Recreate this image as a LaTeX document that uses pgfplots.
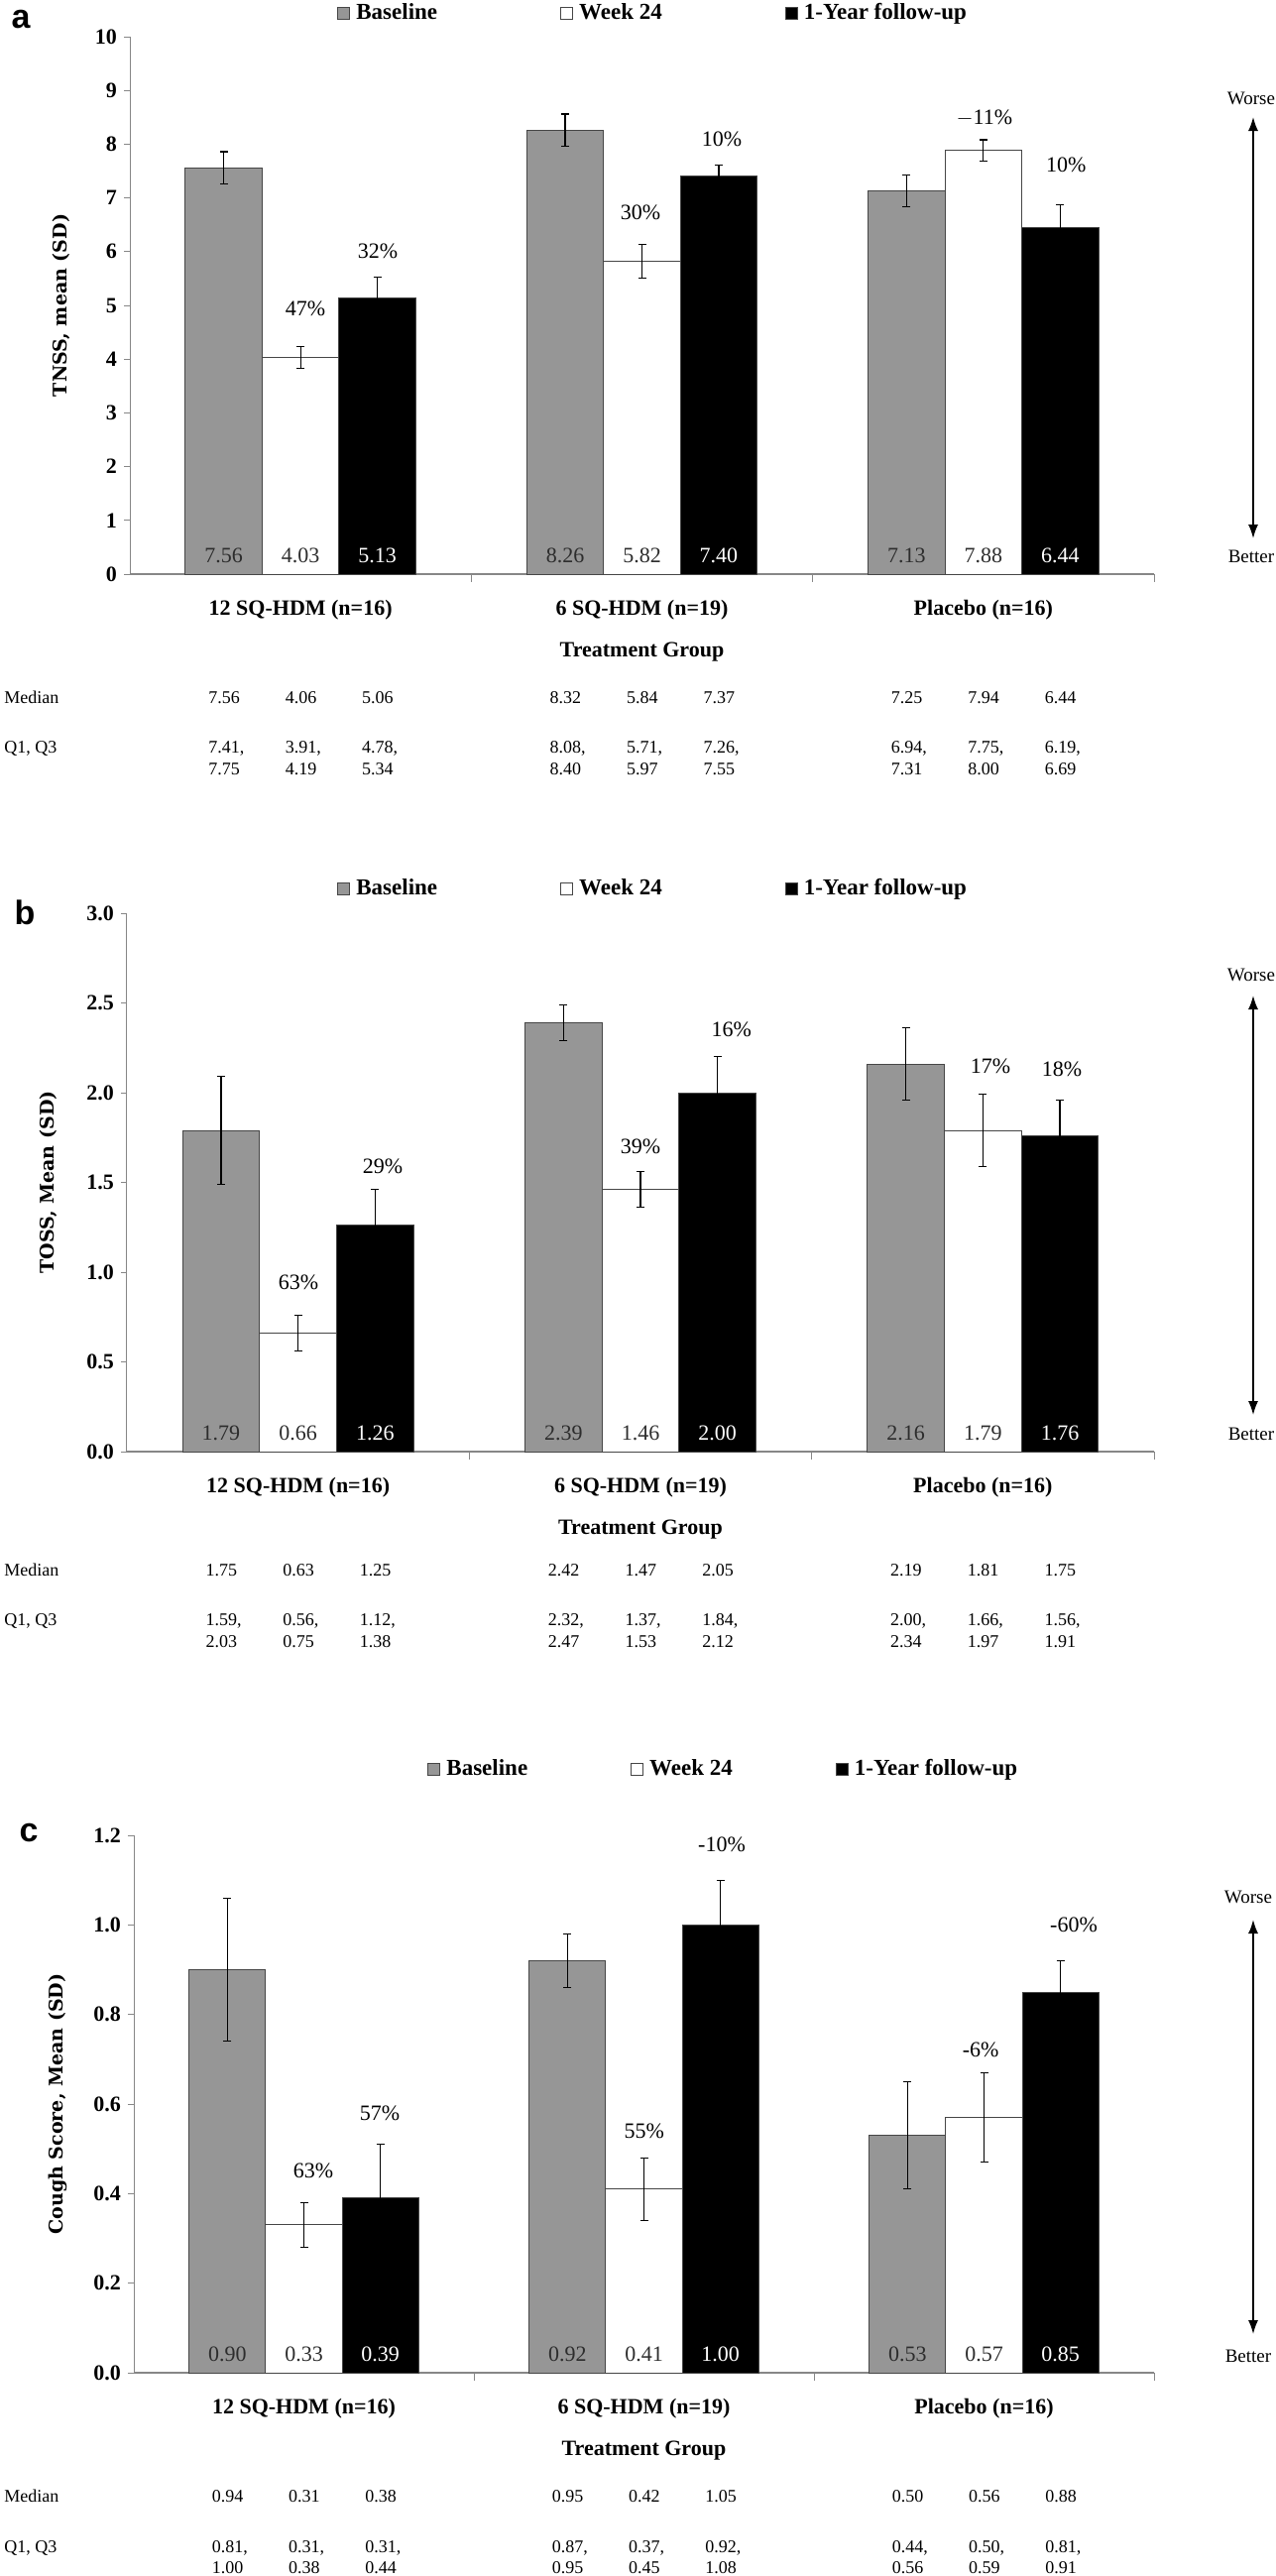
\documentclass[border=0pt]{standalone}
\usepackage{fontspec}
\setmainfont{Liberation Serif}
\newfontfamily\labfont{DejaVu Serif}
\newfontfamily\sansfnt{Liberation Sans}
\usepackage{pgfplots}
\pgfplotsset{compat=1.18}
\usetikzlibrary{arrows.meta}

\definecolor{bargray}{RGB}{150,150,150}
\definecolor{edge}{RGB}{70,70,70}
\definecolor{axgray}{RGB}{135,135,135}
\definecolor{lbldark}{RGB}{45,45,45}

\newcommand\valfont{\fontsize{11}{13}\selectfont}
\newcommand\stfont{\fontsize{9}{11}\selectfont}
\newcommand\vl[3]{\node[font=\valfont, text=#3, yshift=9.5pt, inner sep=0pt] at (axis cs:#1,0) {#2};}
\newcommand\pl[3]{\node[font=\valfont, inner sep=0pt] at (axis cs:#1,#2) {#3};}
\newcommand\col[4]{%
 \node[anchor=base west, font=\stfont, inner sep=0pt, xshift=-7.9pt, yshift=\ym] at (axis cs:#1,0) {#2};%
 \node[anchor=base west, font=\stfont, inner sep=0pt, xshift=-7.9pt, yshift=\yqa] at (axis cs:#1,0) {#3};%
 \node[anchor=base west, font=\stfont, inner sep=0pt, xshift=-7.9pt, yshift=\yqb] at (axis cs:#1,0) {#4};}
\newcommand\rowlabels[1]{%
 \node[anchor=base west, font=\stfont, inner sep=0pt, xshift=#1, yshift=\ym] at (rel axis cs:0,0) {Median};%
 \node[anchor=base west, font=\stfont, inner sep=0pt, xshift=#1, yshift=\yqa] at (rel axis cs:0,0) {Q1, Q3};}

\pgfplotsset{
 panel/.style={
  scale only axis, clip=false,
  xmin=-0.5, xmax=2.5, ymin=0,
  axis x line*=bottom, axis y line*=left,
  x axis line style={axgray, line width=1pt, -},
  y axis line style={axgray, line width=0.5pt, -},
  xtick={0,1,2},
  xticklabels={12 SQ-HDM (n=16), 6 SQ-HDM (n=19), Placebo (n=16)},
  xticklabel style={font=\fontsize{11}{13}\selectfont\bfseries, anchor=center, yshift=-15pt},
  major x tick style={draw=none},
  minor xtick={0.5,1.5,2.5},
  minor x tick style={axgray, line width=0.5pt},
  tick align=outside,
  major tick length=3pt, minor tick length=4pt,
  ytick style={axgray, line width=0.5pt},
  yticklabel style={font=\fontsize{11}{13}\selectfont\bfseries, /pgf/number format/assume math mode=true},
  xlabel={Treatment Group},
  xlabel style={font=\fontsize{11}{13}\selectfont\bfseries, at={(axis description cs:0.5,0)}, anchor=center, yshift=-39.5pt},
  ylabel style={font=\labfont\bfseries\fontsize{9.5}{11}\selectfont, anchor=center},
  legend columns=3,
  legend style={draw=none, fill=none, inner sep=0pt, font=\fontsize{11.5}{13}\selectfont\bfseries,
    /tikz/every even column/.append style={column sep=60pt},
    /tikz/every odd column/.append style={column sep=1pt}},
  legend cell align=left,
  bar width=0.225,
 },
 bars/.style={ybar, bar shift=0pt, draw=edge, line width=0.5pt,
  error bars/y dir=both, error bars/y explicit,
  error bars/error bar style={black, line width=0.6pt},
  error bars/error mark options={rotate=90, black, mark size=2pt, line width=0.6pt},
  legend image code/.code={\draw[##1, line width=0.5pt] (0pt,-3pt) rectangle (6pt,3pt);}},
}

\begin{document}
\begin{tikzpicture}[font=\valfont]
\useasboundingbox (0,0) rectangle (643pt,-1299pt);

% ---------------- panel a
\def\ym{-65pt}\def\yqa{-90pt}\def\yqb{-101pt}
\begin{axis}[panel, at={(65.5pt,-289.5pt)}, anchor=south west, width=516.5pt, height=271pt,
  ymax=10, ytick={0,1,...,10}, ylabel={TNSS, mean (SD)},
  ylabel style={at={(axis description cs:-0.067,0.5)}},
  legend style={at={(axis description cs:0.2023,1)}, anchor=west, yshift=12pt}]
\addplot[bars, fill=bargray] coordinates {(-0.225,7.56) +- (0,0.30) (0.775,8.26) +- (0,0.30) (1.775,7.13) +- (0,0.30)};
\addlegendentry{Baseline}
\addplot[bars, fill=white] coordinates {(0,4.03) +- (0,0.20) (1,5.82) +- (0,0.31) (2,7.88) +- (0,0.20)};
\addlegendentry{Week 24}
\addplot[bars, fill=black] coordinates {(0.225,5.13) +- (0,0.40) (1.225,7.40) +- (0,0.21) (2.225,6.44) +- (0,0.43)};
\addlegendentry{1-Year follow-up}
\vl{-0.225}{7.56}{lbldark}\vl{0}{4.03}{lbldark}\vl{0.225}{5.13}{white}
\vl{0.775}{8.26}{lbldark}\vl{1}{5.82}{lbldark}\vl{1.225}{7.40}{white}
\vl{1.775}{7.13}{lbldark}\vl{2}{7.88}{lbldark}\vl{2.225}{6.44}{white}
\pl{0.014}{4.93}{47\%}\pl{0.226}{6.01}{32\%}
\pl{0.996}{6.72}{30\%}\pl{1.234}{8.10}{10\%}
\pl{2.003}{8.49}{$-$11\%}\pl{2.242}{7.62}{10\%}
\rowlabels{-63.5pt}
\col{-0.225}{7.56}{7.41,}{7.75}\col{0}{4.06}{3.91,}{4.19}\col{0.225}{5.06}{4.78,}{5.34}
\col{0.775}{8.32}{8.08,}{8.40}\col{1}{5.84}{5.71,}{5.97}\col{1.225}{7.37}{7.26,}{7.55}
\col{1.775}{7.25}{6.94,}{7.31}\col{2}{7.94}{7.75,}{8.00}\col{2.225}{6.44}{6.19,}{6.69}
\end{axis}

% ---------------- panel b
\def\ym{-62.5pt}\def\yqa{-87.5pt}\def\yqb{-98.5pt}
\begin{axis}[panel, at={(64pt,-732pt)}, anchor=south west, width=518pt, height=271.5pt,
  ymax=3, ytick={0,0.5,1,1.5,2,2.5,3}, ylabel={TOSS, Mean (SD)},
  yticklabel style={/pgf/number format/.cd, fixed, fixed zerofill, precision=1},
  ylabel style={at={(axis description cs:-0.076,0.5)}},
  legend style={at={(axis description cs:0.2046,1)}, anchor=west, yshift=12.5pt}]
\addplot[bars, fill=bargray] coordinates {(-0.225,1.79) +- (0,0.30) (0.775,2.39) +- (0,0.10) (1.775,2.16) +- (0,0.20)};
\addlegendentry{Baseline}
\addplot[bars, fill=white] coordinates {(0,0.66) +- (0,0.10) (1,1.46) +- (0,0.10) (2,1.79) +- (0,0.20)};
\addlegendentry{Week 24}
\addplot[bars, fill=black] coordinates {(0.225,1.26) +- (0,0.20) (1.225,2.00) +- (0,0.20) (2.225,1.76) +- (0,0.20)};
\addlegendentry{1-Year follow-up}
\vl{-0.225}{1.79}{lbldark}\vl{0}{0.66}{lbldark}\vl{0.225}{1.26}{white}
\vl{0.775}{2.39}{lbldark}\vl{1}{1.46}{lbldark}\vl{1.225}{2.00}{white}
\vl{1.775}{2.16}{lbldark}\vl{2}{1.79}{lbldark}\vl{2.225}{1.76}{white}
\pl{0.001}{0.945}{63\%}\pl{0.247}{1.59}{29\%}
\pl{1.0}{1.70}{39\%}\pl{1.266}{2.35}{16\%}
\pl{2.022}{2.15}{17\%}\pl{2.231}{2.13}{18\%}
\rowlabels{-62pt}
\col{-0.225}{1.75}{1.59,}{2.03}\col{0}{0.63}{0.56,}{0.75}\col{0.225}{1.25}{1.12,}{1.38}
\col{0.775}{2.42}{2.32,}{2.47}\col{1}{1.47}{1.37,}{1.53}\col{1.225}{2.05}{1.84,}{2.12}
\col{1.775}{2.19}{2.00,}{2.34}\col{2}{1.81}{1.66,}{1.97}\col{2.225}{1.75}{1.56,}{1.91}
\end{axis}

% ---------------- panel c
\def\ym{-65pt}\def\yqa{-90.5pt}\def\yqb{-101pt}
\begin{axis}[panel, at={(67.5pt,-1196.5pt)}, anchor=south west, width=514.5pt, height=271pt,
  ymax=1.2, ytick={0,0.2,0.4,0.6,0.8,1.0,1.2}, ylabel={Cough Score, Mean (SD)},
  yticklabel style={/pgf/number format/.cd, fixed, fixed zerofill, precision=1},
  ylabel style={at={(axis description cs:-0.074,0.5)}},
  legend style={at={(axis description cs:0.2877,1)}, anchor=west, yshift=33.5pt,
    /tikz/every even column/.append style={column sep=50pt}}]
\addplot[bars, fill=bargray] coordinates {(-0.225,0.90) +- (0,0.16) (0.775,0.92) +- (0,0.06) (1.775,0.53) +- (0,0.12)};
\addlegendentry{Baseline}
\addplot[bars, fill=white] coordinates {(0,0.33) +- (0,0.05) (1,0.41) +- (0,0.07) (2,0.57) +- (0,0.10)};
\addlegendentry{Week 24}
\addplot[bars, fill=black] coordinates {(0.225,0.39) +- (0,0.12) (1.225,1.00) +- (0,0.10) (2.225,0.85) +- (0,0.07)};
\addlegendentry{1-Year follow-up}
\vl{-0.225}{0.90}{lbldark}\vl{0}{0.33}{lbldark}\vl{0.225}{0.39}{white}
\vl{0.775}{0.92}{lbldark}\vl{1}{0.41}{lbldark}\vl{1.225}{1.00}{white}
\vl{1.775}{0.53}{lbldark}\vl{2}{0.57}{lbldark}\vl{2.225}{0.85}{white}
\pl{0.028}{0.45}{63\%}\pl{0.223}{0.579}{57\%}
\pl{1.001}{0.54}{55\%}\pl{1.229}{1.18}{-10\%}
\pl{1.99}{0.72}{-6\%}\pl{2.264}{1.00}{-60\%}
\rowlabels{-65.5pt}
\col{-0.225}{0.94}{0.81,}{1.00}\col{0}{0.31}{0.31,}{0.38}\col{0.225}{0.38}{0.31,}{0.44}
\col{0.775}{0.95}{0.87,}{0.95}\col{1}{0.42}{0.37,}{0.45}\col{1.225}{1.05}{0.92,}{1.08}
\col{1.775}{0.50}{0.44,}{0.56}\col{2}{0.56}{0.50,}{0.59}\col{2.225}{0.88}{0.81,}{0.91}
\end{axis}

% panel letters
\node[font=\sansfnt\bfseries\fontsize{17}{20}\selectfont] at (10.5pt,-10pt) {a};
\node[font=\sansfnt\bfseries\fontsize{17}{20}\selectfont] at (12.5pt,-460pt) {b};
\node[font=\sansfnt\bfseries\fontsize{17}{20}\selectfont] at (14.5pt,-924pt) {c};

% worse/better arrows
\tikzset{wb/.style={{Latex[length=7pt,width=5pt]}-{Latex[length=7pt,width=5pt]}, line width=0.8pt}}
\node[font=\fontsize{9.5}{11}\selectfont] at (631pt,-49.5pt) {Worse};
\draw[wb] (632pt,-59pt) -- (632pt,-271.5pt);
\node[font=\fontsize{9.5}{11}\selectfont] at (631pt,-280.5pt) {Better};
\node[font=\fontsize{9.5}{11}\selectfont] at (631pt,-491.5pt) {Worse};
\draw[wb] (632pt,-502pt) -- (632pt,-713.5pt);
\node[font=\fontsize{9.5}{11}\selectfont] at (631pt,-723pt) {Better};
\node[font=\fontsize{9.5}{11}\selectfont] at (629.5pt,-956.5pt) {Worse};
\draw[wb] (632pt,-968pt) -- (632pt,-1177pt);
\node[font=\fontsize{9.5}{11}\selectfont] at (629.5pt,-1188pt) {Better};
\end{tikzpicture}
\end{document}
